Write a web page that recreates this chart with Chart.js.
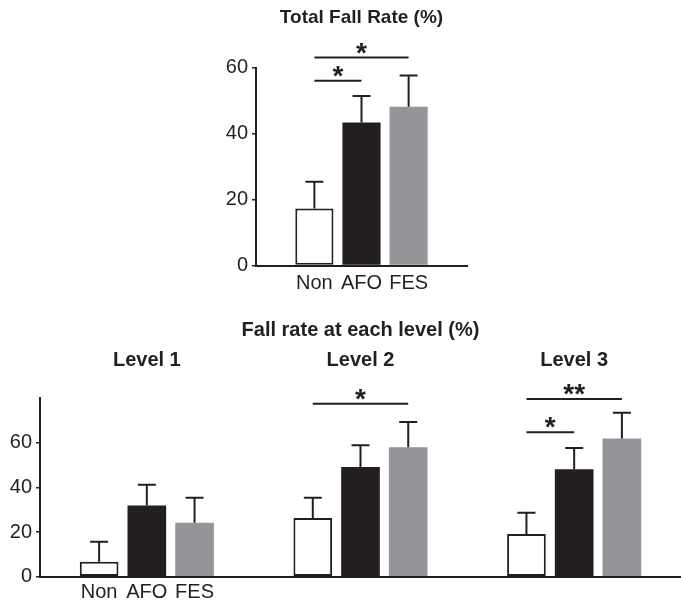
<!DOCTYPE html>
<html>
<head>
<meta charset="utf-8">
<script src="https://cdn.jsdelivr.net/npm/chart.js@4.4.0/dist/chart.umd.min.js"></script>
<style>
body{margin:0;background:#fff;}
.box{position:absolute;left:0;width:681px;}
</style>
</head>
<body>
<div class="box" style="top:0"><canvas id="totalChart" width="681" height="300"></canvas></div>
<div class="box" style="top:300px"><canvas id="levelChart" width="681" height="307"></canvas></div>
<script>
const groups = ['Non', 'AFO', 'FES'];
const levels = ['Level 1', 'Level 2', 'Level 3'];

// total fall rate, mean and upper error
const totalMean = [17.3, 43.3, 48.1];
const totalErr = [8.1, 8.1, 9.5];

// fall rate per level, one array per group
const nonMean = [6.7, 26.3, 19.1];
const nonErr = [8.9, 9.1, 9.5];
const afoMean = [31.9, 49.1, 48.1];
const afoErr = [9.3, 9.7, 9.5];
const fesMean = [24.1, 58.0, 61.9];
const fesErr = [11.2, 11.2, 11.5];

const totalTicks = [0, 20, 40, 60];
const levelTicks = [0, 20, 40, 60];

// significance brackets: category, from group, to group, height, mark
const totalSig = [
  {cat: 0, from: 0, to: 2, at: 63, mark: '*'},
  {cat: 0, from: 0, to: 1, at: 56, mark: '*'}
];
const levelSig = [
  {cat: 1, from: 0, to: 2, at: 77.4, mark: '*'},
  {cat: 2, from: 0, to: 2, at: 79.6, mark: '**'},
  {cat: 2, from: 0, to: 1, at: 64.7, mark: '*'}
];

const ink = '#231f20';
const fills = ['#ffffff', '#231f20', '#939598'];
const fontFamily = '"Liberation Sans", Arial, sans-serif';

Chart.defaults.font.family = fontFamily;
Chart.defaults.color = ink;

const extras = {
  id: 'extras',
  afterDatasetsDraw(chart, args, opts) {
    const ctx = chart.ctx;
    const y = chart.scales.y;
    ctx.save();
    ctx.strokeStyle = ink;
    ctx.fillStyle = ink;
    ctx.lineWidth = 2;

    // error bars (upper only)
    chart.data.datasets.forEach((ds, di) => {
      chart.getDatasetMeta(di).data.forEach((bar, i) => {
        const top = y.getPixelForValue(ds.data[i] + ds.err[i]);
        ctx.beginPath();
        ctx.moveTo(bar.x, bar.y);
        ctx.lineTo(bar.x, top);
        ctx.moveTo(bar.x - 9, top);
        ctx.lineTo(bar.x + 9, top);
        ctx.stroke();
      });
    });

    // significance lines
    ctx.textAlign = 'center';
    opts.sig.forEach(s => {
      const a = chart.getDatasetMeta(s.from).data[s.cat].x;
      const b = chart.getDatasetMeta(s.to).data[s.cat].x;
      const yy = y.getPixelForValue(s.at);
      ctx.beginPath();
      ctx.moveTo(a, yy);
      ctx.lineTo(b, yy);
      ctx.stroke();
      ctx.font = 'bold 28px ' + fontFamily;
      ctx.textBaseline = 'alphabetic';
      ctx.fillText(s.mark, (a + b) / 2, yy + 4);
    });

    // group names under the first category
    ctx.font = '20px ' + fontFamily;
    ctx.textBaseline = 'middle';
    chart.data.datasets.forEach((ds, di) => {
      const bar = chart.getDatasetMeta(di).data[0];
      ctx.fillText(ds.label, bar.x, opts.labelY);
    });
    ctx.restore();
  }
};

function makeDatasets(means, errs) {
  return groups.map((g, i) => ({
    label: g,
    data: means[i],
    err: errs[i],
    backgroundColor: fills[i],
    borderColor: ink,
    borderWidth: i === 0 ? 2 : 0,
    borderSkipped: false,
    categoryPercentage: 0.67,
    barPercentage: 0.81
  }));
}

function yAxis(max, ticks) {
  return {
    min: 0,
    max: max,
    afterFit: s => { s.width = 40; },
    afterBuildTicks: s => { s.ticks = ticks.map(v => ({value: v})); },
    grid: {drawOnChartArea: false, tickLength: 4, color: ink, lineWidth: 1.5},
    border: {color: ink, width: 2},
    ticks: {color: ink, padding: 4, font: {size: 20}}
  };
}

const xAxis = {
  grid: {display: false},
  border: {color: ink, width: 2},
  ticks: {display: false},
  afterFit: s => { s.height = 0; }
};

new Chart(document.getElementById('totalChart'), {
  type: 'bar',
  data: {
    labels: ['Total'],
    datasets: makeDatasets(totalMean.map(v => [v]), totalErr.map(v => [v]))
  },
  options: {
    responsive: false,
    animation: false,
    layout: {padding: {left: 216, right: 214, top: 0, bottom: 34.5}},
    scales: {x: xAxis, y: yAxis(60, totalTicks)},
    plugins: {
      legend: {display: false},
      tooltip: {enabled: false},
      title: {
        display: true,
        text: 'Total Fall Rate (%)',
        fullSize: false,
        color: ink,
        font: {size: 19, weight: 'bold'},
        padding: {top: 6.6, bottom: 38.1}
      },
      extras: {sig: totalSig, labelY: 283}
    }
  },
  plugins: [extras]
});

new Chart(document.getElementById('levelChart'), {
  type: 'bar',
  data: {
    labels: levels,
    datasets: makeDatasets([nonMean, afoMean, fesMean], [nonErr, afoErr, fesErr])
  },
  options: {
    responsive: false,
    animation: false,
    layout: {padding: {left: 0, right: 0, top: 0, bottom: 30.3}},
    scales: {
      x: xAxis,
      x2: {
        type: 'category',
        position: 'top',
        offset: true,
        grid: {display: false, drawTicks: false},
        border: {display: false},
        ticks: {color: ink, padding: 26, font: {size: 20, weight: 'bold'}},
        afterFit: s => { s.height = 50; }
      },
      y: yAxis(80, levelTicks)
    },
    plugins: {
      legend: {display: false},
      tooltip: {enabled: false},
      title: {
        display: true,
        text: 'Fall rate at each level (%)',
        fullSize: false,
        color: ink,
        font: {size: 20, weight: 'bold'},
        padding: {top: 18.7, bottom: 5.3}
      },
      extras: {sig: levelSig, labelY: 292}
    }
  },
  plugins: [extras]
});
</script>
</body>
</html>
